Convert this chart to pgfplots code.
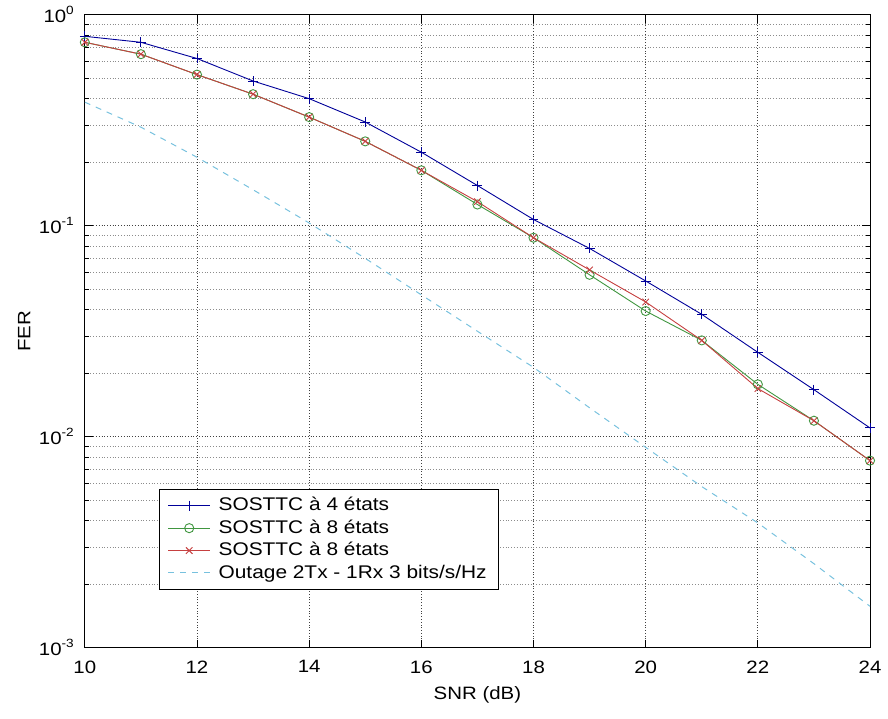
\documentclass[border=0pt]{standalone}
\usepackage{pgfplots}
\pgfplotsset{compat=1.18}
\usepackage{fontspec}
\setmainfont[FakeStretch=1.14]{Liberation Sans}
\begin{document}
\begin{tikzpicture}
\begin{axis}[
  width=394.5pt, height=318pt, scale only axis,
  xmin=10, xmax=24, ymin=1e-3, ymax=1,
  ymode=log,
  xtick={10,12,...,24},
  ytick={1e-3,1e-2,1e-1,1},
  yticklabels={10\textsuperscript{-3},10\textsuperscript{-2},10\textsuperscript{-1},10\textsuperscript{0}},
  /pgf/number format/assume math mode=true,
  tick label style={font=\fontsize{9}{11}\selectfont},
  label style={font=\fontsize{9}{11}\selectfont},
  yticklabel style={xshift=-1.5pt},
  xticklabel style={yshift=-3pt},
  xlabel={SNR (dB)}, ylabel={FER},
  xlabel style={yshift=0pt, name=xlab},
  ylabel style={yshift=-2.5pt, name=ylab},
  grid=both,
  major grid style={black!75, densely dotted, line width=0.4pt},
  minor grid style={black!45, densely dotted, line width=0.35pt},
  tick style={black, line width=0.4pt},
  major tick length=4pt, minor tick length=2pt,
  axis line style={black, line width=0.5pt},
  legend style={at={(0.095,0.092)}, anchor=south west, draw=black, line width=0.4pt,
    font=\fontsize{9.2}{11}\selectfont, row sep=-1pt, inner ysep=2pt, inner xsep=4pt, column sep=2pt},
  legend cell align=left,
  legend image code/.code={\draw[mark repeat=2,mark phase=2,#1] plot coordinates {(0cm,0cm) (0.37cm,0cm) (0.74cm,0cm)};},
]
\addplot[color=blue!60!black, line width=0.45pt, mark=+, mark size=2.5pt, mark options={solid}] coordinates {
(10,0.79) (11,0.74) (12,0.62) (13,0.485) (14,0.40) (15,0.31) (16,0.223) (17,0.155)
(18,0.107) (19,0.078) (20,0.0547) (21,0.038) (22,0.0251) (23,0.0167) (24,0.0110)};
\addlegendentry{SOSTTC à 4 états}
\addplot[color=green!45!black!75, line width=0.45pt, mark=o, mark size=2.3pt, mark options={solid}] coordinates {
(10,0.74) (11,0.65) (12,0.52) (13,0.42) (14,0.327) (15,0.251) (16,0.183) (17,0.126)
(18,0.0877) (19,0.0585) (20,0.0394) (21,0.0286) (22,0.0177) (23,0.0119) (24,0.0077)};
\addlegendentry{SOSTTC à 8 états}
\addplot[color=red!70!black!75, line width=0.45pt, mark=x, mark size=2.3pt, mark options={solid}] coordinates {
(10,0.74) (11,0.65) (12,0.52) (13,0.42) (14,0.327) (15,0.251) (16,0.183) (17,0.130)
(18,0.0877) (19,0.0617) (20,0.0435) (21,0.0286) (22,0.0169) (23,0.0119) (24,0.0077)};
\addlegendentry{SOSTTC à 8 états}
\addplot[color=cyan!60!teal!60, line width=0.5pt, dashed] coordinates {
(10,0.385) (11,0.293) (12,0.211) (13,0.148) (14,0.103) (15,0.070) (16,0.047) (17,0.0316)
(18,0.0213) (19,0.0137) (20,0.0089) (21,0.0058) (22,0.0039) (23,0.0025) (24,0.00157)};
\addlegendentry{Outage 2Tx - 1Rx 3 bits/s/Hz}
\end{axis}
\path ([xshift=-5.5pt]ylab.north) rectangle (ylab.south);
\path ([yshift=-4pt]xlab.south) rectangle (xlab.north);
\end{tikzpicture}
\end{document}
